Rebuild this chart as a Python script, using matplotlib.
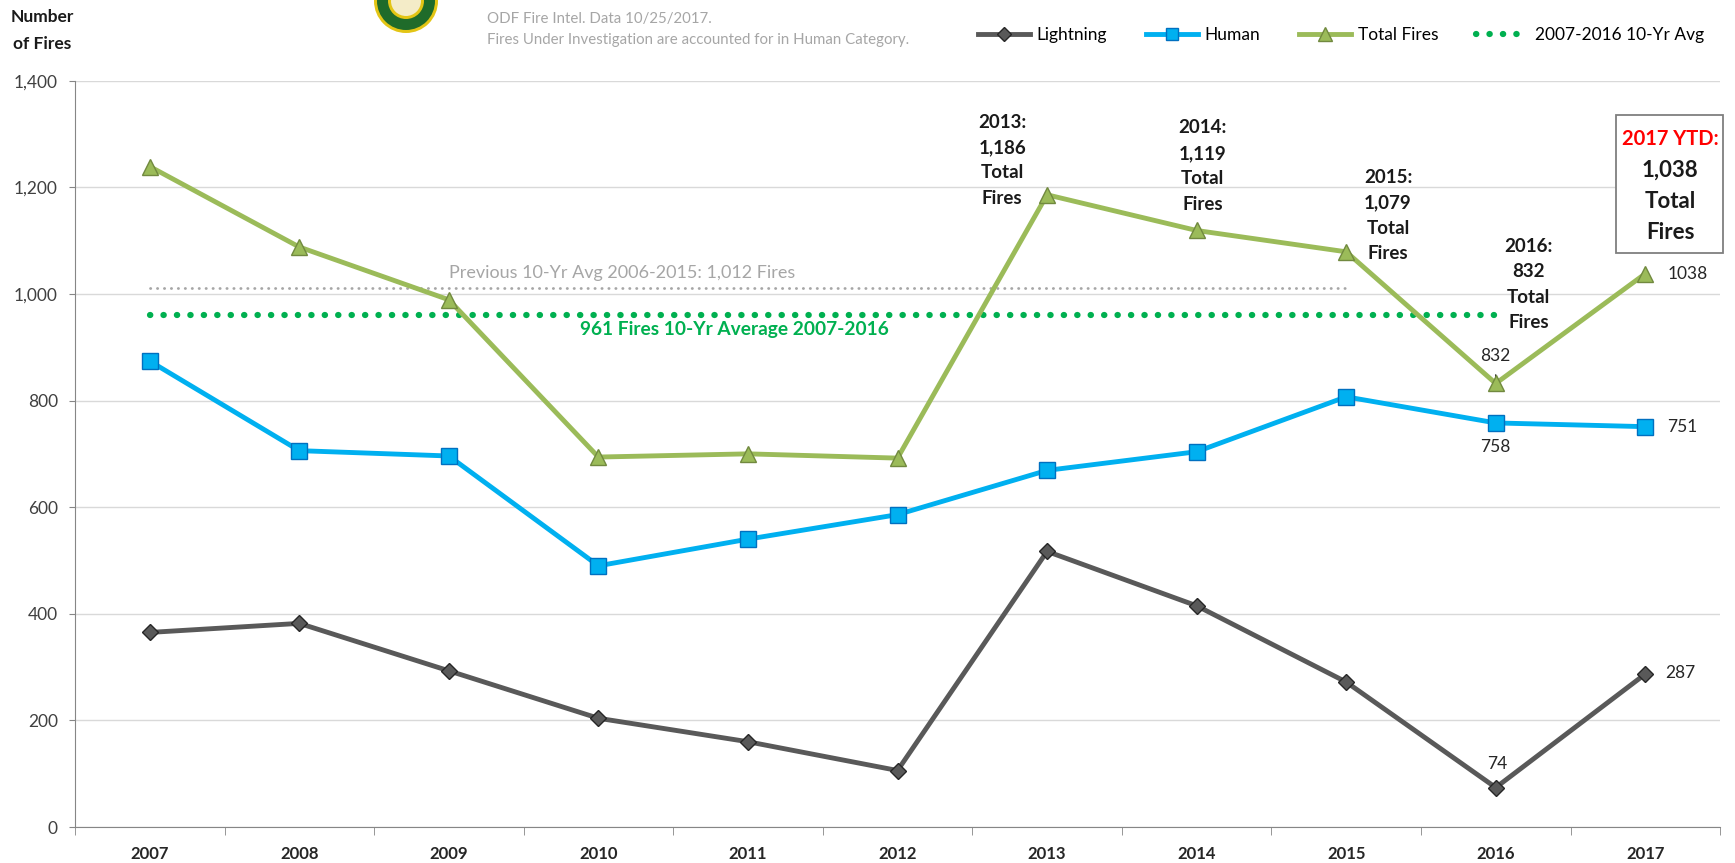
import matplotlib
matplotlib.use("Agg")
import matplotlib.pyplot as plt
from matplotlib.patches import Circle, Rectangle

plt.rcParams['font.family'] = ['Lato', 'DejaVu Sans']

# Data
years = ['2007', '2008', '2009', '2010', '2011', '2012', '2013', '2014', '2015', '2016', '2017']
lightning = [365, 382, 293, 204, 160, 106, 517, 415, 272, 74, 287]
human = [874, 706, 696, 490, 540, 586, 669, 704, 807, 758, 751]
total = [1239, 1088, 989, 694, 700, 692, 1186, 1119, 1079, 832, 1038]
avg_10yr = 961          # 2007-2016
prev_avg_10yr = 1012    # 2006-2015

x = list(range(len(years)))

fig = plt.figure(figsize=(17.35, 8.63), dpi=100)
ax = fig.add_axes([0.0432, 0.0417, 0.9482, 0.8648])

# Reference lines
ax.plot([0, 8], [prev_avg_10yr, prev_avg_10yr], color='#A6A6A6', lw=2,
        linestyle=(0, (0.1, 2.4)), dash_capstyle='round', zorder=2)
avg_line, = ax.plot([0, 9], [avg_10yr, avg_10yr], color='#00B050', lw=4.5,
                    linestyle=(0, (0.05, 2.1)), dash_capstyle='round', zorder=2,
                    label='2007-2016 10-Yr Avg')

# Series
l1, = ax.plot(x, lightning, color='#595959', lw=3.5, marker='D', ms=8.5,
              mfc='#595959', mec='#262626', mew=1, label='Lightning', zorder=4)
l2, = ax.plot(x, human, color='#00B0F0', lw=3.5, marker='s', ms=11,
              mfc='#00B0F0', mec='#0070C0', mew=1, label='Human', zorder=4)
l3, = ax.plot(x, total, color='#9BBB59', lw=3.5, marker='^', ms=12,
              mfc='#9BBB59', mec='#71893F', mew=1, label='Total Fires', zorder=4)

# Axes styling
ax.set_xlim(-0.5, 10.5)
ax.set_ylim(0, 1400)
ax.set_yticks(range(0, 1401, 200))
ax.set_yticklabels([f'{v:,}' for v in range(0, 1401, 200)], fontsize=12.5, color='#404040')
ax.set_xticks(x)
ax.set_xticklabels(years, fontsize=12, fontweight='bold', color='#262626')
ax.set_xticks([i - 0.5 for i in range(len(years) + 1)], minor=True)
ax.tick_params(axis='x', which='major', length=0, pad=14)
ax.tick_params(axis='x', which='minor', length=6, color='#868686')
ax.tick_params(axis='y', length=4.3, color='#868686', pad=8)
ax.grid(axis='y', color='#D9D9D9', lw=1)
ax.set_axisbelow(True)
for s in ['top', 'right']:
    ax.spines[s].set_visible(False)
for s in ['left', 'bottom']:
    ax.spines[s].set_color('#868686')

# Average labels
ax.text(2.0, 1039, 'Previous 10-Yr Avg 2006-2015: 1,012 Fires', color='#A6A6A6',
        fontsize=13, ha='left', va='center')
ax.text(3.91, 934, '961 Fires 10-Yr Average 2007-2016', color='#00B050',
        fontsize=13.8, fontweight='bold', ha='center', va='center')

# Year annotations
notes = [(5.70, 1251, '2013:\n1,186\nTotal\nFires'),
         (7.04, 1240, '2014:\n1,119\nTotal\nFires'),
         (8.28, 1147, '2015:\n1,079\nTotal\nFires'),
         (9.22, 1018, '2016:\n832\nTotal\nFires')]
for nx, ny, txt in notes:
    ax.text(nx, ny, txt, fontsize=13.5, fontweight='bold', ha='center', va='center',
            linespacing=1.6, color='#1a1a1a')

# 2017 YTD box
ax.add_patch(Rectangle((1616 / 1735, 1 - 253 / 863), 107 / 1735, 138 / 863,
                       transform=fig.transFigure, fc='white', ec='#7F7F7F', lw=1.3,
                       clip_on=False, zorder=5))
ax.text(10.166, 1290, '2017 YTD:', fontsize=14.5, fontweight='bold', color='#FF0000',
        ha='center', va='center', zorder=6)
for yy, t in [(1232, '1,038'), (1174, 'Total'), (1115, 'Fires')]:
    ax.text(10.166, yy, t, fontsize=16, fontweight='bold', color='#1a1a1a',
            ha='center', va='center', zorder=6)

# Data labels
lab = dict(fontsize=12.5, color='#262626', textcoords='offset points')
ax.annotate(f'{total[9]}', (9, total[9]), xytext=(0, 20), ha='center', va='center',
            arrowprops=dict(arrowstyle='-', color='#262626', lw=1, shrinkA=6, shrinkB=1), **lab)
ax.annotate(f'{human[9]}', (9, human[9]), xytext=(0, -17), ha='center', va='center', **lab)
ax.annotate(f'{human[10]}', (10, human[10]), xytext=(16, 0), ha='left', va='center', **lab)
ax.annotate(f'{total[10]}', (10, total[10]), xytext=(16, 0), ha='left', va='center', **lab)
ax.annotate(f'{lightning[9]}', (9, lightning[9]), xytext=(1, 17), ha='center', va='center', **lab)
ax.annotate(f'{lightning[10]}', (10, lightning[10]), xytext=(14, 1), ha='left', va='center', **lab)

# Header text
fig.text(42 / 1735, 1 - 17 / 863, 'Number', fontsize=12.5, fontweight='bold',
         ha='center', va='center', color='#1a1a1a')
fig.text(42 / 1735, 1 - 44 / 863, 'of Fires', fontsize=12.5, fontweight='bold',
         ha='center', va='center', color='#1a1a1a')
fig.text(487 / 1735, 1 - 19 / 863, 'ODF Fire Intel. Data 10/25/2017.', fontsize=10.8,
         color='#A6A6A6', ha='left', va='center')
fig.text(487 / 1735, 1 - 40 / 863, 'Fires Under Investigation are accounted for in Human Category.',
         fontsize=10.8, color='#A6A6A6', ha='left', va='center')

# Logo (partially cut off at the top)
cx, cy = 4.06, 8.63 - 0.01
for r, c in [(0.32, '#E3C515'), (0.29, '#1F6B2A'), (0.18, '#E3C515'), (0.15, '#F4ECC8')]:
    fig.patches.append(Circle((cx, cy), r, transform=fig.dpi_scale_trans, fc=c, ec='none'))

# Legend
fig.legend(handles=[l1, l2, l3, avg_line], loc='center right',
           bbox_to_anchor=(1720 / 1735, 1 - 35 / 863), ncol=4, frameon=False,
           fontsize=12.5, handlelength=3, columnspacing=2.2, handletextpad=0.4,
           markerscale=0.8)

fig.savefig('out.png', dpi=100)
